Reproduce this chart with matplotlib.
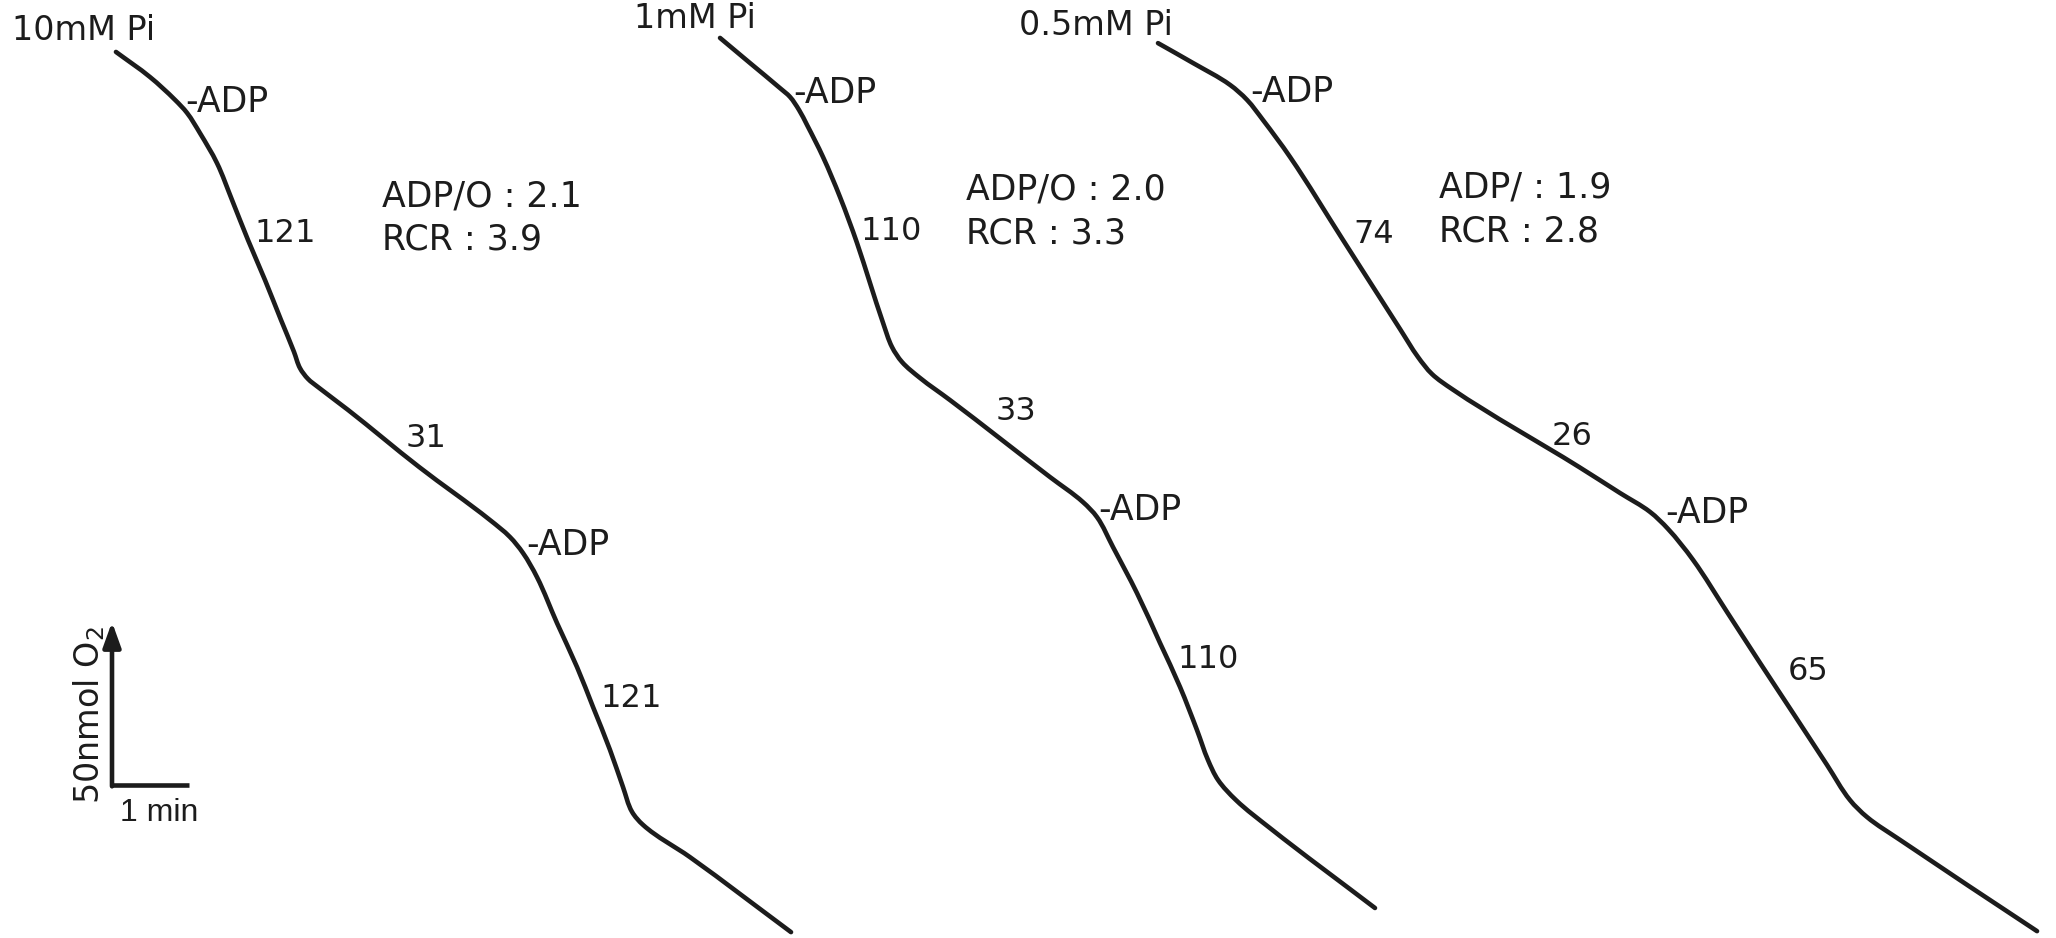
import math
import matplotlib
matplotlib.use("Agg")
import matplotlib.pyplot as plt
from matplotlib.path import Path
from matplotlib.patches import PathPatch

# ---------------- data ----------------
# time in min, O2 in nmol (oxygen electrode traces; O2 falls with time)
conditions = ["10mM Pi", "1mM Pi", "0.5mM Pi"]

t_10mM = [1.506, 1.948, 2.273, 2.429, 2.597, 2.818, 3.013, 3.221, 3.442, 3.649,
          3.818, 3.896, 4.000, 4.130, 4.519, 5.442, 6.364, 6.623, 6.792, 6.974,
          7.234, 7.494, 7.701, 7.922, 8.091, 8.208, 8.351, 8.961, 10.273]
o2_10mM = [271.8, 264.1, 257.1, 253.1, 246.9, 237.7, 226.4, 214.1, 201.8, 189.6,
           179.8, 174.8, 171.5, 169.0, 162.0, 144.5, 128.2, 123.0, 118.1, 110.7,
           96.6, 83.1, 70.9, 57.7, 46.3, 38.7, 34.7, 24.8, 1.8]

t_1mM = [9.351, 9.740, 10.130, 10.260, 10.377, 10.481, 10.688, 10.909, 11.130,
         11.299, 11.468, 11.584, 11.714, 11.948, 12.338, 13.636, 14.065, 14.247,
         14.455, 14.766, 15.065, 15.325, 15.545, 15.688, 15.818, 16.052, 16.494,
         17.857]
o2_1mM = [276.1, 268.4, 260.7, 258.0, 254.0, 249.4, 239.6, 227.3, 213.2,
          200.9, 188.7, 181.3, 176.7, 171.8, 165.0, 141.4, 133.7, 129.1,
          119.9, 105.8, 90.5, 77.0, 63.8, 54.6, 48.5, 42.3, 33.7,
          9.2]

t_05mM = [15.039, 15.494, 15.974, 16.195, 16.403, 16.753, 17.442, 18.182, 18.416,
          18.597, 18.857, 20.506, 21.039, 21.429, 21.662, 21.987, 22.429, 22.857,
          23.286, 23.727, 24.026, 24.247, 24.675, 26.455]
o2_05mM = [274.5, 268.4, 261.7, 257.1, 250.9, 239.6, 214.1, 186.8, 178.2,
           173.0, 168.4, 144.5, 136.5, 130.7, 125.5, 116.0, 100.0, 84.4,
           69.0, 53.1, 42.3, 37.1, 30.1, 2.1]

state3_rate_1 = [121, 110, 74]
state4_rate = [31, 33, 26]
state3_rate_2 = [121, 110, 65]
adpo_prefix = ["ADP/O", "ADP/O", "ADP/"]
adpo_value = [2.1, 2.0, 1.9]
rcr_value = [3.9, 3.3, 2.8]

scale_min = 1      # min
scale_nmol = 50    # nmol O2

# ---------------- figure ----------------
W, H, DPI = 2056, 938, 100
PX_PER_MIN = 77.0
PX_PER_NMOL = 163.0 / 50.0
INK = "#1c1c1c"
LW = 3.3

fig = plt.figure(figsize=(W / DPI, H / DPI), dpi=DPI, facecolor="white")
ax = fig.add_axes([0, 0, 1, 1])
ax.set_xlim(0, W / PX_PER_MIN)
ax.set_ylim(0, H / PX_PER_NMOL)
ax.axis("off")


def P(px, py):
    """layout helper: picture pixel position -> data coords"""
    return px / PX_PER_MIN, (H - py) / PX_PER_NMOL


def smooth_path(xs, ys):
    """Pen-like trace through the read points, drawn as Bezier segments."""
    pts = [(x * PX_PER_MIN, y * PX_PER_NMOL) for x, y in zip(xs, ys)]
    n = len(pts)
    units, lens = [], []
    for i in range(n - 1):
        dx = pts[i + 1][0] - pts[i][0]
        dy = pts[i + 1][1] - pts[i][1]
        L = math.hypot(dx, dy)
        units.append((dx / L, dy / L))
        lens.append(L)
    tang = [units[0]]
    for i in range(1, n - 1):
        sx = units[i - 1][0] + units[i][0]
        sy = units[i - 1][1] + units[i][1]
        L = math.hypot(sx, sy)
        tang.append((sx / L, sy / L))
    tang.append(units[-1])
    verts = [pts[0]]
    codes = [Path.MOVETO]
    for i in range(n - 1):
        d = lens[i] / 3.0
        c1 = (pts[i][0] + tang[i][0] * d, pts[i][1] + tang[i][1] * d)
        c2 = (pts[i + 1][0] - tang[i + 1][0] * d,
              pts[i + 1][1] - tang[i + 1][1] * d)
        verts += [c1, c2, pts[i + 1]]
        codes += [Path.CURVE4] * 3
    verts = [(vx / PX_PER_MIN, vy / PX_PER_NMOL) for vx, vy in verts]
    return Path(verts, codes)


traces = [(t_10mM, o2_10mM), (t_1mM, o2_1mM), (t_05mM, o2_05mM)]
for t, o in traces:
    ax.add_patch(PathPatch(smooth_path(t, o), fill=False, edgecolor=INK,
                           lw=LW, capstyle="round", joinstyle="round"))

# label layout (left x, baseline y) in picture pixels
cond_pos = [(12, 40), (634, 28), (1019, 35)]
adp1_pos = [(185, 112), (793, 103), (1250, 102)]
s3a_pos = [(254, 242), (860, 240), (1353, 243)]
ratio_pos = [(382, 207), (966, 200), (1439, 198)]
rcr_pos = [(382, 250), (966, 243), (1439, 242)]
s4_pos = [(406, 447), (996, 420), (1552, 445)]
adp2_pos = [(526, 555), (1098, 520), (1665, 523)]
s3b_pos = [(600, 707), (1177, 668), (1788, 680)]


def label(s, pos, fs, family="DejaVu Sans"):
    x, y = P(*pos)
    ax.text(x, y, s, fontsize=fs, color=INK, ha="left", va="baseline",
            family=family)


for i in range(3):
    label(conditions[i], cond_pos[i], 24)
    label("-ADP", adp1_pos[i], 25)
    label(str(state3_rate_1[i]), s3a_pos[i], 23)
    label(f"{adpo_prefix[i]} : {adpo_value[i]:.1f}", ratio_pos[i], 25)
    label(f"RCR : {rcr_value[i]:.1f}", rcr_pos[i], 25)
    label(str(state4_rate[i]), s4_pos[i], 23)
    label("-ADP", adp2_pos[i], 25)
    label(str(state3_rate_2[i]), s3b_pos[i], 23)

# scale bar
x0, y0 = P(112, 785)
ax.plot([x0, x0 + scale_min], [y0, y0], color=INK, lw=LW,
        solid_capstyle="butt")
ax.annotate("", xy=(x0, y0 + scale_nmol), xytext=(x0, y0 - 0.4),
            arrowprops=dict(arrowstyle="-|>,head_length=0.5,head_width=0.18",
                            lw=LW, color=INK, mutation_scale=30,
                            shrinkA=0, shrinkB=0))
tx, ty = P(89, 715)
ax.text(tx, ty, f"{scale_nmol}nmol O$_2$", rotation=90, fontsize=24,
        color=INK, ha="center", va="center", family="DejaVu Sans")
label(f"{scale_min} min", (120, 821), 23, family="Liberation Sans")

fig.savefig("out.png", dpi=DPI, facecolor="white")
